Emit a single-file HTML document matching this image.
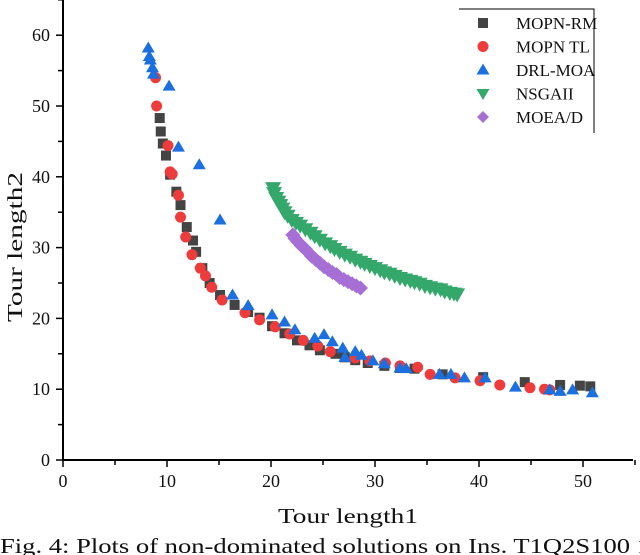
<!DOCTYPE html>
<html><head><meta charset="utf-8"><style>
html,body{margin:0;padding:0;background:#fff;width:640px;height:555px;overflow:hidden}
svg text{font-family:"Liberation Serif",serif;fill:#111}
</style></head><body>
<svg id="chart" width="640" height="555" xmlns="http://www.w3.org/2000/svg">
<g id="axes"></g>
<g id="marks"></g>
<g id="legend"></g>
<text x="278" y="523" font-size="21" textLength="140" lengthAdjust="spacingAndGlyphs">Tour length1</text>
<text transform="translate(22,247) rotate(-90)" font-size="21" text-anchor="middle" textLength="150" lengthAdjust="spacingAndGlyphs">Tour length2</text>
<text x="0" y="553" font-size="21" textLength="650" lengthAdjust="spacingAndGlyphs">Fig. 4: Plots of non-dominated solutions on Ins. T1Q2S100 1</text>
</svg>
<script>
const xTicks=[0,10,20,30,40,50];
const yTicks=[0,10,20,30,40,50,60];
const seriesNames=["MOPN-RM","MOPN TL","DRL-MOA","NSGAII","MOEA/D"];
const rmX=[9.3,9.4,9.6,9.9,10.3,10.9,11.3,11.9,12.5,12.8,13.4,14.1,15.1,16.5,17.8,18.9,20.1,21.3,22.5,23.7,24.7,26.2,27.1,28.1,29.3,30.9,32.4,33.8,36.5,40.4,44.4,47.8,49.7,50.7];
const rmY=[48.3,46.4,44.7,43,40.3,37.9,36,32.9,31,29.4,27.1,25,23.3,21.9,20.9,20.1,18.9,17.9,16.9,16.2,15.5,15,14.5,14.1,13.7,13.3,13,12.9,12.1,11.7,11,10.6,10.5,10.4];
const tlX=[8.9,9,10.1,10.3,10.5,11.1,11.3,11.8,12.4,13.2,13.7,14.3,15.3,17.5,18.9,20.4,21.8,23.1,24.5,25.7,28.1,29.5,31,32.4,34.1,35.3,37.7,40.1,42,44.9,46.3,46.8];
const tlY=[54,50,44.4,40.7,40.4,37.4,34.3,31.5,29,27.1,26,24.4,22.6,20.8,19.8,18.8,17.8,16.9,16.1,15.3,14.4,14,13.7,13.3,13.1,12.1,11.6,11.2,10.6,10.2,10,9.9];
const drlX=[8.2,8.3,8.4,8.6,8.7,10.2,11.1,13.1,15.1,16.3,17.8,20.1,21.3,22.3,24.2,25.1,25.9,26.9,27.1,28.1,28.7,29.8,30.9,32.4,33,36.2,37.3,38.6,40.6,43.5,46.8,47.8,49,50.9];
const drlY=[58.2,57,56.5,55.4,54.5,52.8,44.2,41.7,33.9,23.3,21.8,20.5,19.5,18.4,17.2,17.7,16.7,15.8,14.5,15.3,14.8,14,13.6,13,12.9,12.1,12.1,11.6,11.6,10.3,9.9,9.7,9.9,9.5];
const nsX=[20.2,20.3,20.5,20.7,20.9,21.1,21.3,21.6,22.0,22.4,22.8,23.3,23.8,24.2,24.7,25.2,25.7,26.1,26.6,27.1,27.6,28.1,28.6,29.0,29.5,30.0,30.5,30.9,31.4,31.9,32.4,32.9,33.4,33.8,34.3,34.8,35.3,35.8,36.3,36.7,37.2,37.6,37.9];
const nsY=[38.4,37.7,37.0,36.5,36.0,35.5,35.0,34.5,33.9,33.5,33.1,32.6,32.1,31.6,31.1,30.6,30.2,29.8,29.4,29.0,28.7,28.3,28.0,27.7,27.4,27.1,26.8,26.5,26.3,26.0,25.7,25.5,25.3,25.1,24.9,24.6,24.4,24.2,24.1,23.8,23.6,23.5,23.4];
const moX=[22.1,22.3,22.6,22.9,23.3,23.6,23.9,24.3,24.7,25.1,25.5,25.9,26.3,26.6,27.0,27.4,27.8,28.2,28.6];
const moY=[31.8,31.3,30.8,30.3,29.8,29.3,28.8,28.3,27.8,27.3,26.9,26.5,26.2,25.8,25.5,25.2,24.9,24.6,24.3];
const colors=["#444444","#ee3b3b","#1b6fdf","#34a86b","#a66fd6"];
const X=v=>63+v*10.4, Y=v=>460-v*7.08;
const NS="http://www.w3.org/2000/svg";
function mk(tag,attrs,parent){const e=document.createElementNS(NS,tag);for(const k in attrs)e.setAttribute(k,attrs[k]);parent.appendChild(e);return e;}
const axes=document.getElementById('axes');
let l=mk('line',{x1:63,y1:0,x2:63,y2:461,stroke:'#000','stroke-width':2},axes);


l=mk('line',{x1:62,y1:460,x2:633,y2:460,stroke:'#000','stroke-width':2},axes);


for(let v=0;v<=55;v+=5){const major=v%10===0;const t=mk('line',{x1:X(v),y1:460,x2:X(v),y2:major?467:465,stroke:'#000','stroke-width':1.5},axes);

}
for(let v=0;v<=65;v+=5){const major=v%10===0;const t=mk('line',{x1:63,y1:Y(v),x2:major?56:58,y2:Y(v),stroke:'#000','stroke-width':1.5},axes);

}
xTicks.forEach(v=>{const t=mk('text',{x:X(v),y:487,'font-size':18,'text-anchor':'middle'},axes);t.textContent=v;

});
yTicks.forEach(v=>{const t=mk('text',{x:50,y:Y(v)+6,'font-size':18,'text-anchor':'end'},axes);t.textContent=v;

});
function marker(type,cx,cy,color,parent,big){let e;const s=big?7:5.5;
if(type===0)e=mk('rect',{x:cx-5,y:cy-5,width:10,height:10,fill:color},parent);
else if(type===1)e=mk('circle',{cx:cx,cy:cy,r:5.5,fill:color},parent);
else if(type===2)e=mk('polygon',{points:`${cx},${cy-s-1} ${cx+s+1},${cy+s-1} ${cx-s-1},${cy+s-1}`,fill:color},parent);
else if(type===3)e=mk('polygon',{points:`${cx},${cy+s+1} ${cx+s+1},${cy-s+1} ${cx-s-1},${cy-s+1}`,fill:color},parent);
else e=mk('polygon',{points:`${cx},${cy-s-0.5} ${cx+s+0.5},${cy} ${cx},${cy+s+0.5} ${cx-s-0.5},${cy}`,fill:color},parent);
return e;}
const marks=document.getElementById('marks');
const sets=[[rmX,rmY],[tlX,tlY],[drlX,drlY],[nsX,nsY],[moX,moY]];
const order=[3,4,0,1,2];
order.forEach(si=>{const [xs,ys]=sets[si];xs.forEach((x,i)=>{const m=marker(si,X(x),Y(ys[i]),colors[si],marks,si>=3);

});});
const lg=document.getElementById('legend');
mk('rect',{x:459,y:9,width:135,height:124,fill:'#fff'},lg);
mk('polyline',{points:'459,9 594,9 594,133',fill:'none',stroke:'#000','stroke-width':1},lg);
seriesNames.forEach((n,i)=>{const cy=23+i*23.5;const g=mk('g',{},lg);


marker(i,483,cy,colors[i],g,false);
const t=mk('text',{x:516,y:cy+6,'font-size':17},g);t.textContent=n;});
</script>
</body></html>
